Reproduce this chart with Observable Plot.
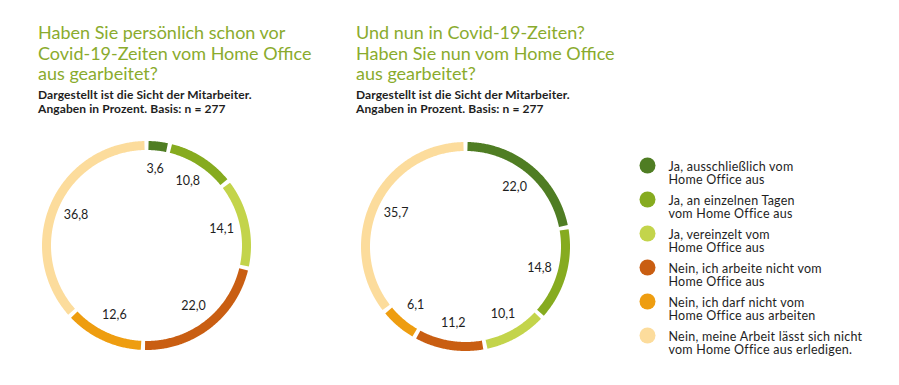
<!DOCTYPE html>
<html>
<head>
<meta charset="utf-8">
<script src="https://cdn.jsdelivr.net/npm/d3@7"></script>
<script src="https://cdn.jsdelivr.net/npm/@observablehq/plot@0.6"></script>
<style>
  html, body { margin: 0; padding: 0; background: #fff; }
  body { width: 899px; height: 385px; position: relative; overflow: hidden; font-family: Lato, "Noto Sans", sans-serif; }
  .title { position: absolute; color: #8aab2d; font-size: 18px; line-height: 20.5px; font-weight: 400; white-space: nowrap; }
  .sub { position: absolute; color: #1e1e1e; font-size: 12px; letter-spacing: 0.1px; line-height: 14px; font-weight: 700; white-space: nowrap; }
  .chart { position: absolute; }
</style>
</head>
<body>
<div class="title" style="left:38px; top:22px;">Haben Sie persönlich schon vor<br>Covid-19-Zeiten vom Home Office<br>aus gearbeitet?</div>
<div class="sub" style="left:38px; top:88px;">Dargestellt ist die Sicht der Mitarbeiter.<br>Angaben in Prozent. Basis: n = 277</div>
<div class="title" style="left:356px; top:22px;">Und nun in Covid-19-Zeiten?<br>Haben Sie nun vom Home Office<br>aus gearbeitet?</div>
<div class="sub" style="left:356px; top:88px;">Dargestellt ist die Sicht der Mitarbeiter.<br>Angaben in Prozent. Basis: n = 277</div>
<div id="donut1" class="chart" style="left:26px; top:125px;"></div>
<div id="donut2" class="chart" style="left:344.5px; top:125.5px;"></div>
<div id="legend" class="chart" style="left:630px; top:145px;"></div>
<script>
const categories = [
  "Ja, ausschließlich vom\nHome Office aus",
  "Ja, an einzelnen Tagen\nvom Home Office aus",
  "Ja, vereinzelt vom\nHome Office aus",
  "Nein, ich arbeite nicht vom\nHome Office aus",
  "Nein, ich darf nicht vom\nHome Office aus arbeiten",
  "Nein, meine Arbeit lässt sich nicht\nvom Home Office aus erledigen."
];
const colors = ["#4f7d23", "#86ab1f", "#c3d44b", "#c95e12", "#ee9d10", "#fcdc9c"];
const beforeCovid = [3.6, 10.8, 14.1, 22.0, 12.6, 36.8];
const duringCovid = [22.0, 14.8, 10.1, 11.2, 6.1, 35.7];

const color = {domain: categories, range: colors};

function donut(values) {
  const total = d3.sum(values);
  const gap = 0.02;
  const arcs = [];
  const labels = [];
  let cum = 0;
  values.forEach((v, i) => {
    const a0 = cum / total * 2 * Math.PI;
    const a1 = (cum + v) / total * 2 * Math.PI;
    cum += v;
    const n = Math.max(4, Math.ceil((a1 - a0) / 0.01));
    for (let k = 0; k <= n; k++) {
      const a = (a0 + gap) + (a1 - a0 - 2 * gap) * k / n;
      arcs.push({cat: categories[i], x: Math.sin(a), y: Math.cos(a)});
    }
    const m = (a0 + a1) / 2;
    labels.push({cat: categories[i], value: v, x: 0.77 * Math.sin(m), y: 0.77 * Math.cos(m)});
  });
  return Plot.plot({
    width: 240, height: 240,
    margin: 0,
    x: {domain: [-1.2, 1.2], axis: null},
    y: {domain: [-1.2, 1.2], axis: null},
    color,
    marks: [
      Plot.line(arcs, {x: "x", y: "y", z: "cat", stroke: "cat", strokeWidth: 9, strokeLinecap: "butt", curve: "linear"}),
      Plot.text(labels, {x: "x", y: "y", text: d => d.value.toFixed(1).replace(".", ","), fontSize: 12.5, fill: "#1e1e1e", fontFamily: "Lato, sans-serif"})
    ]
  });
}

document.getElementById("donut1").append(donut(beforeCovid));
document.getElementById("donut2").append(donut(duringCovid));

const legend = Plot.plot({
  width: 269, height: 235,
  marginTop: 19, marginBottom: 44, marginLeft: 0, marginRight: 0,
  style: {letterSpacing: "0.25px"},
  y: {type: "point", domain: categories, padding: 0, axis: null},
  color,
  marks: [
    Plot.dot(categories, {y: d => d, frameAnchor: "left", dx: 17, r: 8, fill: d => d, stroke: null}),
    Plot.text(categories, {y: d => d, frameAnchor: "left", dx: 38, dy: 7.5, text: d => d, textAnchor: "start", lineAnchor: "middle", lineHeight: 1.1, fontSize: 12.5, fill: "#1e1e1e", fontFamily: "Lato, sans-serif"})
  ]
});
document.getElementById("legend").append(legend);
</script>
</body>
</html>
